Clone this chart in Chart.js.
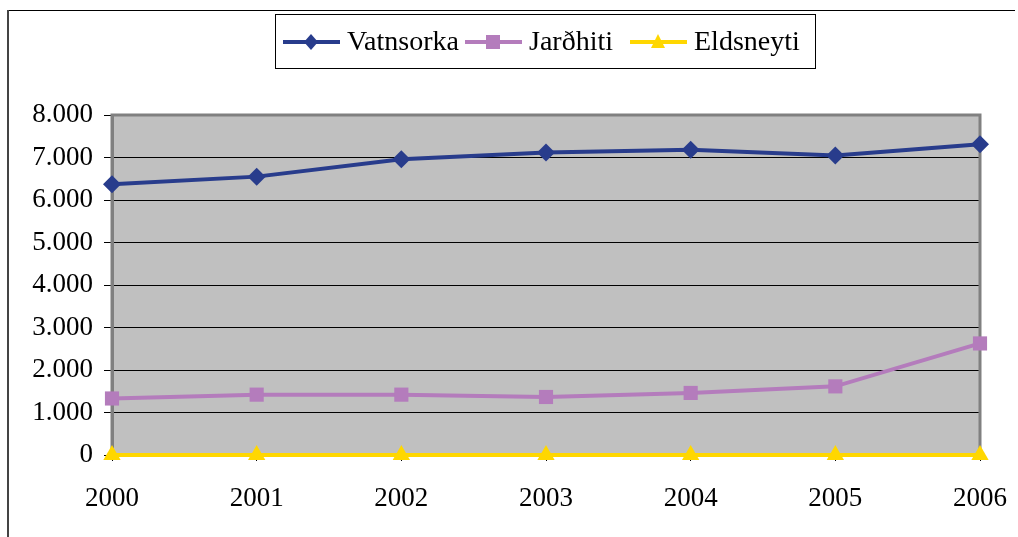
<!DOCTYPE html>
<html>
<head>
<meta charset="utf-8">
<script src="https://cdn.jsdelivr.net/npm/chart.js@4.4.1/dist/chart.umd.min.js"></script>
<style>
  html, body { margin: 0; padding: 0; background: #fff; }
  #wrap { width: 1018px; height: 537px; }
</style>
</head>
<body>
<div id="wrap"><canvas id="chart" width="1018" height="537"></canvas></div>
<script>
// gögn lesin af myndinni
const years = ["2000", "2001", "2002", "2003", "2004", "2005", "2006"];
const vatnsorka = [6370, 6550, 6960, 7120, 7180, 7050, 7310];
const jardhiti = [1330, 1420, 1420, 1365, 1460, 1615, 2625];
const eldsneyti = [0, 0, 0, 0, 0, 0, 0];
const seriesNames = ["Vatnsorka", "Jarðhiti", "Eldsneyti"];

const FONT = "'Liberation Serif', 'Times New Roman', serif";

function fmt(v) {
  return String(v).replace(/\B(?=(\d{3})+(?!\d))/g, ".");
}

// bakgrunnur, rammi um myndina og grátt teiknisvæði
const framePlugin = {
  id: "frame",
  beforeDraw(chart) {
    const { ctx, chartArea: a } = chart;
    ctx.save();
    ctx.fillStyle = "#fff";
    ctx.fillRect(0, 0, chart.width, chart.height);
    ctx.fillStyle = "#000";
    ctx.fillRect(8, 10, chart.width - 11, 1);
    ctx.fillStyle = "#444";
    ctx.fillRect(7, 10, 2, chart.height - 10);
    ctx.fillStyle = "#c0c0c0";
    ctx.fillRect(a.left, a.top, a.right - a.left, a.bottom - a.top);
    ctx.restore();
  },
  beforeDatasetsDraw(chart) {
    const { ctx, chartArea: a } = chart;
    ctx.save();
    ctx.strokeStyle = "#808080";
    ctx.lineWidth = 3;
    ctx.strokeRect(a.left, a.top, a.right - a.left, a.bottom - a.top);
    ctx.restore();
  },
};

function drawMarker(ctx, style, x, y, color) {
  ctx.fillStyle = color;
  ctx.beginPath();
  if (style === "rectRot") {
    ctx.moveTo(x, y - 8);
    ctx.lineTo(x + 7, y);
    ctx.lineTo(x, y + 8);
    ctx.lineTo(x - 7, y);
  } else if (style === "rect") {
    ctx.rect(x - 7, y - 7, 14, 14);
  } else {
    ctx.moveTo(x, y - 8);
    ctx.lineTo(x + 7, y + 6);
    ctx.lineTo(x - 7, y + 6);
  }
  ctx.closePath();
  ctx.fill();
}

// skýringar í kassa efst
const legendStarts = [283, 465, 630];
const legendPlugin = {
  id: "boxLegend",
  afterDraw(chart) {
    const ctx = chart.ctx;
    const top = 14, bottom = 68, mid = 42;
    ctx.save();
    ctx.font = "28px " + FONT;
    ctx.textBaseline = "middle";
    ctx.textAlign = "left";
    chart.data.datasets.forEach((ds, i) => {
      const x = legendStarts[i];
      ctx.strokeStyle = ds.borderColor;
      ctx.lineWidth = 4;
      ctx.beginPath();
      ctx.moveTo(x, mid);
      ctx.lineTo(x + 57, mid);
      ctx.stroke();
      drawMarker(ctx, ds.pointStyle, x + 28, mid, ds.pointBackgroundColor);
      ctx.fillStyle = "#000";
      ctx.fillText(ds.label, x + 64, mid + 1);
    });
    ctx.strokeStyle = "#000";
    ctx.lineWidth = 1;
    ctx.strokeRect(275.5, top + 0.5, 815 - 275, bottom - top);
    ctx.restore();
  },
};

new Chart(document.getElementById("chart"), {
  type: "line",
  data: {
    labels: years,
    datasets: [
      {
        label: seriesNames[0],
        data: vatnsorka,
        borderColor: "#283c8c",
        backgroundColor: "#283c8c",
        pointBackgroundColor: "#283c8c",
        pointBorderWidth: 0,
        borderWidth: 4,
        pointStyle: "rectRot",
        pointRadius: 9,
        clip: false,
      },
      {
        label: seriesNames[1],
        data: jardhiti,
        borderColor: "#b47cbc",
        backgroundColor: "#b47cbc",
        pointBackgroundColor: "#b47cbc",
        pointBorderWidth: 0,
        borderWidth: 4,
        pointStyle: "rect",
        pointRadius: 10,
        clip: false,
      },
      {
        label: seriesNames[2],
        data: eldsneyti,
        borderColor: "#ffd700",
        backgroundColor: "#ffd700",
        pointBackgroundColor: "#ffd700",
        pointBorderWidth: 0,
        borderWidth: 4,
        pointStyle: "triangle",
        pointRadius: 10,
        clip: false,
      },
    ],
  },
  options: {
    responsive: false,
    animation: false,
    devicePixelRatio: 1,
    layout: { padding: { top: 115, right: 38, left: 0, bottom: 0 } },
    plugins: {
      legend: { display: false },
      tooltip: { enabled: false },
    },
    scales: {
      x: {
        offset: false,
        grid: { drawOnChartArea: false, drawTicks: true, tickLength: 6, color: "#000" },
        border: { color: "#808080", width: 3 },
        ticks: { color: "#000", font: { family: FONT, size: 27 }, padding: 22, maxRotation: 0 },
        afterFit(scale) {
          scale.height = 82;
          scale.paddingLeft = 0;
          scale.paddingRight = 0;
        },
      },
      y: {
        min: 0,
        max: 8000,
        ticks: {
          stepSize: 1000,
          color: "#000",
          font: { family: FONT, size: 27 },
          padding: 11,
          callback: (v) => fmt(v),
        },
        grid: { color: "#000", lineWidth: 1, drawTicks: true, tickLength: 8 },
        border: { color: "#808080", width: 3 },
        afterFit(scale) {
          scale.width = 112;
          scale.paddingTop = 0;
          scale.paddingBottom = 0;
        },
      },
    },
  },
  plugins: [framePlugin, legendPlugin],
});
</script>
</body>
</html>
